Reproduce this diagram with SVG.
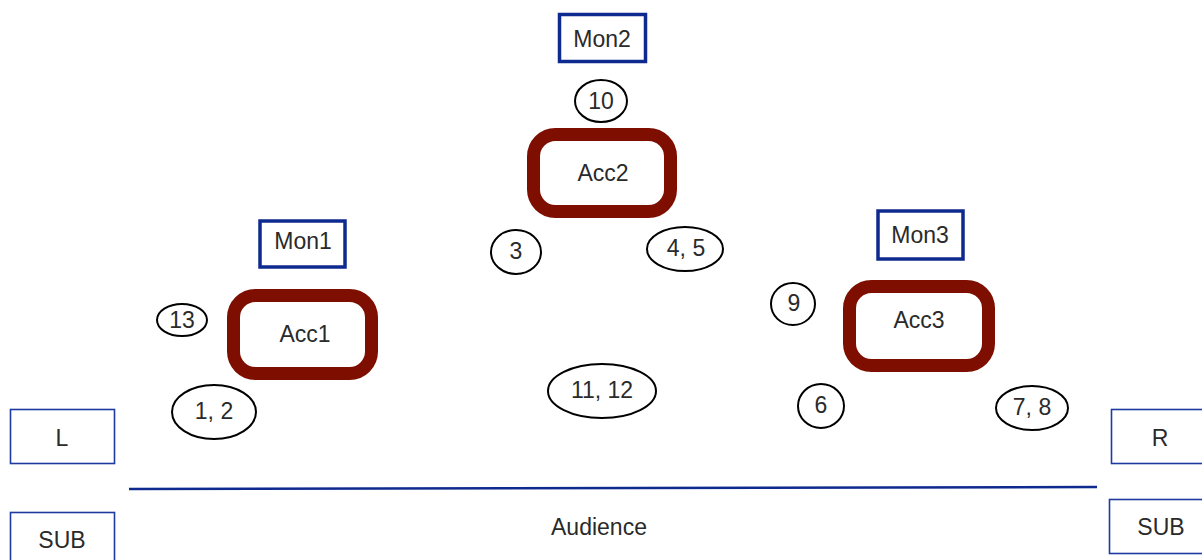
<svg xmlns="http://www.w3.org/2000/svg" width="1202" height="560" viewBox="0 0 1202 560">
<style>
text{font-family:"Liberation Sans",Arial,sans-serif;font-size:23px;fill:#2a2a2a;text-anchor:middle;dominant-baseline:central}
.mon{fill:#fff;stroke:#0f2a8f;stroke-width:3.5}
.acc{fill:#fff;stroke:#7d0e00;stroke-width:13}
.pos{fill:#fff;stroke:#000;stroke-width:2}
.spk{fill:#fff;stroke:#1f3aa0;stroke-width:1.6}
</style>
<rect width="1202" height="560" fill="#fff"/>
<g id="stage-line"><line x1="129" y1="489" x2="1097" y2="487" stroke="#0f2a8f" stroke-width="2.5"/></g>
<g id="connectors"></g>
<g id="mon2"><rect class="mon" x="559.5" y="14.5" width="86" height="47"/><text x="602" y="39">Mon2</text></g>
<g id="p10"><ellipse class="pos" cx="601" cy="101" rx="26" ry="21"/><text x="601" y="101">10</text></g>
<g id="acc2"><rect class="acc" x="533.5" y="134.5" width="137" height="77" rx="22"/><text x="603" y="173">Acc2</text></g>
<g id="p3"><ellipse class="pos" cx="516" cy="252" rx="25" ry="22"/><text x="516" y="251">3</text></g>
<g id="p45"><ellipse class="pos" cx="685" cy="249" rx="38" ry="22"/><text x="686" y="248">4, 5</text></g>
<g id="mon1"><rect class="mon" x="260" y="221" width="85" height="46"/><text x="303" y="241">Mon1</text></g>
<g id="acc1"><rect class="acc" x="233.5" y="295.5" width="138" height="78" rx="22"/><text x="305" y="334">Acc1</text></g>
<g id="p13"><ellipse class="pos" cx="182" cy="320" rx="25" ry="16"/><text x="182" y="320">13</text></g>
<g id="p12"><ellipse class="pos" cx="214" cy="412" rx="42" ry="27"/><text x="214" y="411">1, 2</text></g>
<g id="p1112"><ellipse class="pos" cx="602" cy="391" rx="54" ry="27"/><text x="602" y="390">11, 12</text></g>
<g id="mon3"><rect class="mon" x="878" y="211" width="85" height="48"/><text x="920" y="235">Mon3</text></g>
<g id="acc3"><rect class="acc" x="849.5" y="286.5" width="139" height="79" rx="22"/><text x="919" y="320">Acc3</text></g>
<g id="p9"><ellipse class="pos" cx="793" cy="304" rx="22" ry="21"/><text x="794" y="303">9</text></g>
<g id="p6"><ellipse class="pos" cx="821" cy="406" rx="23" ry="22"/><text x="821" y="405">6</text></g>
<g id="p78"><ellipse class="pos" cx="1032" cy="408" rx="36" ry="22"/><text x="1032" y="407">7, 8</text></g>
<g id="L"><rect class="spk" x="10.5" y="409.5" width="104" height="54"/><text x="62" y="438">L</text></g>
<g id="subL"><rect class="spk" x="10.5" y="512.5" width="104" height="60"/><text x="62" y="540">SUB</text></g>
<g id="R"><rect class="spk" x="1111.5" y="409.5" width="104" height="54"/><text x="1160" y="438">R</text></g>
<g id="subR"><rect class="spk" x="1109.5" y="499.5" width="104" height="54"/><text x="1161" y="527">SUB</text></g>
<g id="audience"><text x="599" y="527">Audience</text></g>
</svg>
